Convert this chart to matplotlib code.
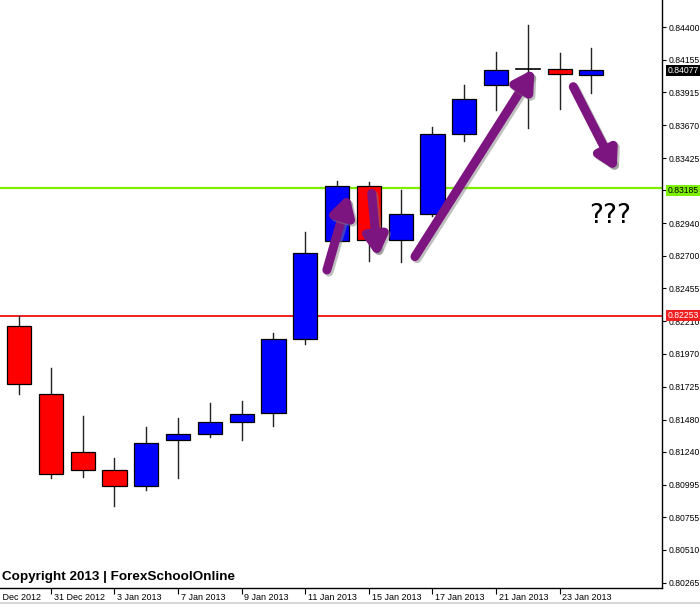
import matplotlib
matplotlib.use("Agg")
import matplotlib.pyplot as plt
import matplotlib.patheffects as pe
from matplotlib.patches import Rectangle, FancyArrowPatch
import numpy as np

# daily candles, 28 Dec 2012 .. 24 Jan 2013
opens = [0.82179, 0.81668, 0.81237, 0.81105, 0.80989, 0.81329, 0.81371, 0.81460, 0.81529, 0.82077,
         0.82808, 0.83217, 0.82816, 0.83009, 0.83602, 0.83971, 0.84085, 0.84085, 0.84043]
highs = [0.82251, 0.81862, 0.81507, 0.81197, 0.81425, 0.81492, 0.81602, 0.81619, 0.82122, 0.82878,
         0.83255, 0.83250, 0.83188, 0.83659, 0.83969, 0.84216, 0.84415, 0.84209, 0.84242]
lows = [0.81671, 0.81044, 0.81051, 0.80838, 0.80957, 0.81044, 0.81353, 0.81329, 0.81433, 0.82040,
        0.82790, 0.82660, 0.82652, 0.82994, 0.83554, 0.83783, 0.83647, 0.83790, 0.83911]
closes = [0.81743, 0.81076, 0.81105, 0.80989, 0.81304, 0.81371, 0.81460, 0.81520, 0.82077, 0.82717,
          0.83217, 0.82816, 0.83007, 0.83602, 0.83867, 0.84080, 0.84084, 0.84050, 0.84077]

date_pos = [-1, 1, 3, 5, 7, 9, 11, 13, 15, 17]
date_labels = ["27 Dec 2012", "31 Dec 2012", "3 Jan 2013", "7 Jan 2013", "9 Jan 2013",
               "11 Jan 2013", "15 Jan 2013", "17 Jan 2013", "21 Jan 2013", "23 Jan 2013"]

price_ticks = [0.84400, 0.84155, 0.83915, 0.83670, 0.83425, 0.83185, 0.82940, 0.82700, 0.82455,
               0.82210, 0.81970, 0.81725, 0.81480, 0.81240, 0.80995, 0.80755, 0.80510, 0.80265]

resistance = 0.83200
support = 0.82253
last_price = 0.84077

# arrows drawn on the chart: (x0, p0, x1, p1)
arrows = [(9.68, 0.82593, 10.41, 0.83188),
          (11.09, 0.83163, 11.29, 0.82655),
          (12.45, 0.82692, 16.28, 0.84117),
          (17.43, 0.83956, 18.85, 0.83299)]

font = "Liberation Sans"
purple = "#7d1580"

fig = plt.figure(figsize=(7, 6.07), dpi=100)
ax = fig.add_axes([0, 0.0315, 662 / 700, 0.9685])

ax.axhline(resistance, color="#7cf000", lw=1.6, zorder=1)
ax.axhline(support, color="#f02020", lw=1.4, zorder=1)

w = 0.76
for i in range(len(opens)):
    o, h, l, c = opens[i], highs[i], lows[i], closes[i]
    ax.plot([i, i], [l, h], color="#222222", lw=1.0, zorder=2)
    if abs(c - o) < 0.00003:
        ax.plot([i - w / 2, i + w / 2], [o, o], color="black", lw=1.2, zorder=3)
        continue
    col = "#0000ff" if c > o else "#ff0000"
    ax.add_patch(Rectangle((i - w / 2, min(o, c)), w, abs(c - o), facecolor=col,
                           edgecolor="black", lw=0.9, zorder=3))

for x0, p0, x1, p1 in arrows:
    a = FancyArrowPatch((x0, p0), (x1, p1), arrowstyle="-|>,head_length=0.28,head_width=0.16",
                        mutation_scale=40, lw=6.5, color=purple, capstyle="round",
                        joinstyle="round", shrinkA=0, shrinkB=3, zorder=5)
    a.set_path_effects([pe.SimpleLineShadow(offset=(1.5, -1.5), shadow_color="gray", alpha=0.5),
                        pe.Normal()])
    ax.add_patch(a)

ax.text(18.6, 0.82995, "???", fontsize=19, ha="center", va="center", family="DejaVu Sans",
        color="black", zorder=6)
ax.text(0.003, 0.018, "Copyright 2013 | ForexSchoolOnline", transform=ax.transAxes,
        fontsize=9.7, fontweight="bold", family=font, va="center", ha="left", zorder=6)

ax.set_xlim(-0.6, 20.22)
ax.set_ylim(0.80228, 0.84601)

ax.yaxis.tick_right()
ax.set_yticks(price_ticks)
ax.set_yticklabels(["%.5f" % p for p in price_ticks], fontsize=6.2, family=font)
ax.tick_params(axis="y", direction="out", length=3, width=0.8, pad=2)

ax.set_xticks(date_pos[1:])
ax.set_xticklabels([])
ax.tick_params(axis="x", direction="out", length=4, width=0.8)
for p, lab in zip(date_pos, date_labels):
    ax.annotate(lab, xy=(p, 0), xycoords=("data", "axes fraction"), xytext=(2, -7),
                textcoords="offset points", ha="left", va="center", fontsize=6.5,
                family=font, annotation_clip=False)

for sp in ["left", "top"]:
    ax.spines[sp].set_visible(False)
for sp in ["right", "bottom"]:
    ax.spines[sp].set_linewidth(1.0)

# price labels with coloured boxes
ax.annotate("%.5f" % last_price, xy=(1, last_price), xycoords=("axes fraction", "data"),
            xytext=(4, 0), textcoords="offset points", ha="left", va="center", fontsize=6.2,
            family=font, color="white", annotation_clip=False,
            bbox=dict(boxstyle="square,pad=0.15", fc="black", ec="none"))
ax.annotate("%.5f" % 0.83185, xy=(1, 0.83185), xycoords=("axes fraction", "data"),
            xytext=(4, 0), textcoords="offset points", ha="left", va="center", fontsize=6.2,
            family=font, color="black", annotation_clip=False,
            bbox=dict(boxstyle="square,pad=0.15", fc="#7cf000", ec="none"))
ax.annotate("%.5f" % support, xy=(1, support), xycoords=("axes fraction", "data"),
            xytext=(4, 0), textcoords="offset points", ha="left", va="center", fontsize=6.2,
            family=font, color="white", annotation_clip=False,
            bbox=dict(boxstyle="square,pad=0.15", fc="#f02020", ec="none"))

fig.add_artist(plt.Line2D([0, 1], [0.006, 0.006], color="#d8d8d8", lw=1.5))

fig.savefig("out.png", dpi=100)
